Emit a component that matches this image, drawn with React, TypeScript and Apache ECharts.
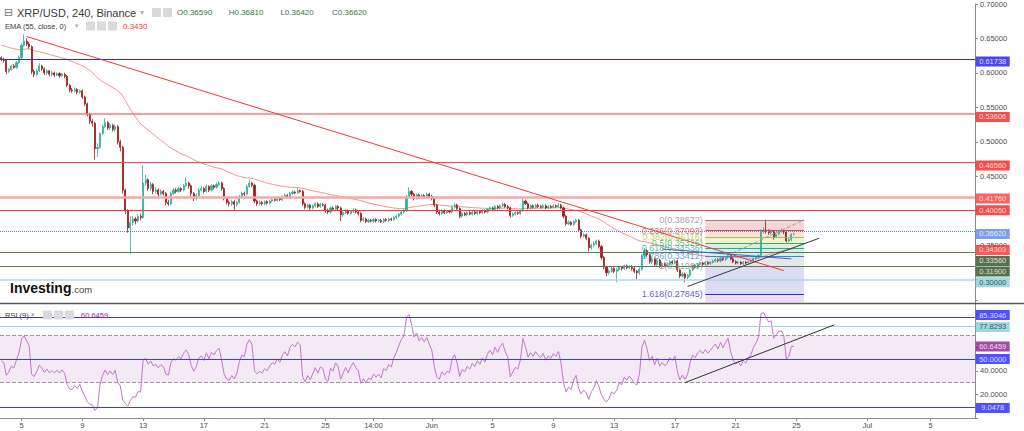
import React, { useEffect, useRef } from 'react';
import * as echarts from 'echarts';

const FONT = "'Liberation Sans', Arial, sans-serif";

// 4-hour candles (XRP/USD), prices in thousandths of USD
const CLOSE = [
  620, 618, 602, 605, 610, 608, 615, 622, 640, 646,
  642, 638, 602, 598, 603, 610, 606, 600, 603, 598,
  600, 597, 599, 596, 598, 595, 582, 575, 574, 576,
  572, 574, 565, 555, 540, 530, 527, 490, 492, 512,
  522, 528, 520, 524, 518, 522, 500, 492, 430, 400,
  375, 383, 388, 385, 392, 390, 440, 445, 432, 438,
  428, 430, 424, 428, 425, 412, 410, 425, 430, 428,
  432, 430, 436, 440, 436, 425, 418, 422, 430, 432,
  428, 435, 430, 436, 434, 438, 440, 432, 418, 412,
  410, 413, 409, 412, 420, 425, 424, 435, 440, 437,
  414, 410, 412, 410, 413, 411, 414, 416, 415, 418,
  416, 420, 422, 420, 425, 427, 426, 429, 428, 410,
  405, 408, 404, 407, 410, 406, 409, 408, 400, 398,
  404, 402, 406, 404, 394, 397, 400, 396, 399, 401,
  398, 396, 386, 388, 384, 386, 385, 387, 385, 386,
  384, 387, 386, 388, 387, 390, 392, 395, 398, 400,
  420, 428, 424, 418, 423, 419, 422, 420, 424, 421,
  418, 408, 398, 396, 400, 397, 399, 398, 405, 408,
  403, 392, 396, 394, 397, 395, 398, 396, 399, 397,
  400, 398, 402, 404, 402, 406, 404, 407, 409, 406,
  404, 393, 395, 397, 396, 400, 414, 410, 404, 407,
  405, 408, 406, 405, 407, 404, 406, 405, 407, 406,
  408, 404, 392, 381, 383, 380, 384, 386, 372, 363,
  365, 360, 346, 350, 352, 356, 348, 332, 318, 310,
  312, 316, 312, 314, 318, 316, 320, 317, 319, 316,
  312, 310, 315, 334, 342, 336, 326, 330, 322, 328,
  320, 323, 320, 322, 326, 324, 327, 314, 305, 308,
  303, 306, 314, 320, 318, 322, 324, 322, 325, 323,
  325, 327, 329, 327, 331, 329, 332, 335, 330, 326,
  324, 325, 323, 325, 324, 326, 327, 330, 332, 335,
  370, 372, 370, 368, 370, 362, 366, 370, 371, 369,
  356, 358, 365.9, 366.2,
];
const HIGH = [
  624, 622, 619, 607, 612, 613, 617, 625, 643, 656,
  650, 645, 640, 605, 606, 614, 612, 608, 605, 604,
  603, 602, 601, 601, 600, 600, 597, 584, 578, 579,
  578, 576, 576, 567, 557, 542, 533, 529, 498, 514,
  525, 534, 530, 527, 526, 525, 524, 503, 494, 432,
  402, 392, 392, 391, 395, 396, 466, 452, 447, 442,
  440, 434, 432, 431, 430, 427, 416, 428, 433, 433,
  435, 434, 439, 448, 442, 438, 427, 425, 433, 436,
  434, 438, 437, 439, 438, 441, 443, 442, 434, 420,
  415, 416, 415, 414, 423, 428, 428, 438, 445, 442,
  439, 416, 415, 414, 415, 415, 416, 418, 418, 420,
  420, 422, 425, 424, 427, 430, 429, 433, 431, 430,
  412, 410, 410, 409, 412, 412, 411, 411, 410, 403,
  406, 406, 408, 408, 406, 399, 403, 402, 401, 404,
  403, 400, 398, 391, 390, 388, 388, 389, 389, 388,
  388, 389, 389, 390, 390, 392, 394, 397, 400, 403,
  423, 434, 430, 426, 425, 425, 424, 424, 426, 426,
  423, 420, 410, 400, 402, 402, 401, 401, 407, 411,
  410, 405, 398, 398, 399, 399, 400, 400, 401, 401,
  402, 402, 404, 406, 406, 408, 408, 409, 412, 411,
  408, 406, 397, 399, 399, 402, 418, 416, 412, 409,
  409, 410, 410, 408, 409, 409, 408, 408, 409, 409,
  411, 410, 406, 394, 386, 385, 386, 388, 388, 374,
  368, 367, 362, 352, 355, 358, 358, 350, 334, 320,
  315, 318, 318, 317, 320, 320, 322, 322, 321, 321,
  318, 314, 318, 337, 346, 344, 338, 333, 332, 331,
  330, 326, 325, 325, 328, 328, 330, 329, 316, 311,
  310, 308, 316, 322, 322, 324, 326, 326, 327, 327,
  327, 329, 331, 331, 333, 333, 334, 338, 336, 332,
  328, 327, 327, 327, 327, 328, 329, 332, 334, 337,
  373, 376, 387, 373, 373, 372, 368, 372, 374, 373,
  371, 361, 367, 368.1,
];
const LOW = [
  617, 615, 598, 600, 603, 606, 606, 613, 620, 638,
  639, 635, 598, 594, 595, 601, 603, 597, 597, 595,
  595, 594, 595, 593, 594, 592, 579, 572, 571, 572,
  569, 570, 562, 552, 537, 526, 522, 474, 478, 490,
  510, 520, 517, 517, 515, 515, 496, 486, 425, 395,
  368, 337, 378, 380, 383, 386, 388, 436, 429, 429,
  424, 425, 420, 422, 422, 408, 407, 408, 423, 425,
  426, 427, 428, 434, 432, 421, 414, 415, 420, 428,
  425, 426, 427, 428, 431, 432, 436, 429, 415, 409,
  406, 407, 400, 406, 410, 418, 421, 422, 433, 434,
  411, 407, 408, 407, 408, 409, 409, 412, 413, 413,
  414, 414, 418, 418, 418, 423, 424, 424, 426, 407,
  402, 403, 401, 402, 405, 404, 404, 406, 397, 395,
  396, 399, 400, 401, 385, 391, 395, 394, 394, 397,
  396, 393, 383, 384, 382, 382, 383, 383, 383, 383,
  382, 382, 384, 384, 385, 385, 388, 390, 393, 396,
  398, 418, 421, 415, 416, 417, 417, 418, 418, 419,
  415, 405, 395, 393, 394, 395, 395, 396, 396, 403,
  401, 389, 390, 392, 392, 393, 393, 394, 394, 395,
  395, 396, 396, 400, 400, 400, 402, 402, 405, 404,
  402, 390, 391, 393, 394, 394, 398, 408, 402, 402,
  403, 403, 404, 403, 403, 402, 402, 403, 403, 404,
  404, 402, 389, 378, 379, 378, 378, 382, 369, 360,
  361, 357, 341, 343, 347, 350, 345, 329, 315, 305,
  307, 310, 309, 296, 312, 313, 314, 315, 315, 313,
  309, 300, 307, 313, 331, 333, 323, 323, 319, 320,
  317, 318, 318, 318, 320, 322, 322, 311, 302, 303,
  296, 300, 304, 312, 316, 316, 320, 320, 320, 321,
  321, 323, 325, 325, 325, 327, 327, 330, 328, 324,
  322, 322, 321, 321, 322, 322, 324, 325, 328, 330,
  333, 367, 367, 365, 365, 358, 360, 364, 368, 366,
  354, 354, 356, 364.2,
];
const FIRST_OPEN = 622;

// time slots (4h each) on the x axis, including the empty future area
const SLOT_COUNT = 385;
const X_TICKS: [number, string][] = [
  [8, '5'], [32, '9'], [56, '13'], [80, '17'], [104, '21'], [128, '25'], [147, '14:00'],
  [170, 'Jun'], [194, '5'], [218, '9'], [242, '13'], [266, '17'], [290, '21'], [314, '25'],
  [342, 'Jul'], [367, '5'],
];

const EMA_PERIOD = 55;
const EMA_SEED = 0.641;
const RSI_PERIOD = 9;
const RSI_SEED = 0.004;

// horizontal levels in the price pane
const LEVEL_VALUES = [0.61738, 0.53606, 0.4656, 0.4176, 0.4005, 0.3662, 0.3356, 0.319, 0.3];
const LEVEL_STYLES = [
  { color: '#2e2ed6', width: 1, type: 'solid' },
  { color: '#ff7a7a', width: 1.5, type: 'solid' },
  { color: '#ef4a4a', width: 1, type: 'solid' },
  { color: '#f6a8a8', width: 2.5, type: 'solid' },
  { color: '#ee3a3a', width: 1, type: 'solid' },
  { color: '#5b7fe3', width: 1, type: 'dotted' },
  { color: '#5f7d4e', width: 1, type: 'solid' },
  { color: '#5f7d4e', width: 1, type: 'solid' },
  { color: '#a9dde9', width: 1.5, type: 'solid' },
];

// price tags on the right axis
const TAG_VALUES = [0.61738, 0.53606, 0.4656, 0.4176, 0.4005, 0.3662, 0.34303, 0.3356, 0.319, 0.3];
const TAG_STYLES = [
  { bg: '#1c1ce6', fg: '#ffffff', dy: 0.5 },
  { bg: '#f41f1f', fg: '#ffffff', dy: 0 },
  { bg: '#f41f1f', fg: '#ffffff', dy: 0 },
  { bg: '#f43a3a', fg: '#ffffff', dy: 0 },
  { bg: '#f41f1f', fg: '#ffffff', dy: 0 },
  { bg: '#5c86e6', fg: '#ffffff', dy: 0 },
  { bg: '#ff2b2b', fg: '#ffffff', dy: 0 },
  { bg: '#2c4d1f', fg: '#ffffff', dy: 5.9 },
  { bg: '#2c4d1f', fg: '#ffffff', dy: 5 },
  { bg: '#86cfe0', fg: '#2a2a2a', dy: 2.7 },
];
// axis tick values hidden under the tags
const MAIN_TICKS_UNDER_TAGS = [0.25, 0.3, 0.4];
const RSI_TICKS_UNDER_TAGS = [0, 60, 80, 100];

// drawn trend lines: [slot1, price1, slot2, price2]
const TREND_RED = [10, 0.6529, 309, 0.3129];
const TREND_SUPPORT = [271, 0.29, 323, 0.36];
const TREND_BLUE = [261, 0.3443, 312, 0.33];
const FIB_DIAGONAL = [278, 0.3198, 317, 0.38672];

// Fibonacci retracement
const FIB_RATIOS = ['0', '0.236', '0.382', '0.5', '0.618', '0.786', '1', '1.618'];
const FIB_VALUES = [0.38672, 0.37093, 0.36116, 0.35326, 0.34536, 0.33412, 0.3198, 0.27845];
const FIB_COLORS = ['#8a8a8a', '#e04848', '#a3c23a', '#46aa4e', '#22ad9a', '#3f86d2', '#8a8a8a', '#3434c6'];
const FIB_FILLS = ['#f8d4d4', '#f9e2da', '#eef3d4', '#d9f0da', '#d2efeb', '#e7e7ea', '#dcdcf4'];
const FIB_START = 278;
const FIB_END = 317;
const FIB_FLOOR = 0.2671;
const FIB_FLOOR_FILL = '#eddcef';

// RSI pane
const RSI_LEVELS = [85.3046, 77.8293, 70, 50, 30, 9.0478];
const RSI_LEVEL_STYLES = [
  { color: '#3a3aff', width: 1.2, type: 'solid' },
  { color: '#9fd8e2', width: 1.2, type: 'solid' },
  { color: '#9a9a9a', width: 1, type: 'dashed' },
  { color: '#3a3aff', width: 1.2, type: 'solid' },
  { color: '#9a9a9a', width: 1, type: 'dashed' },
  { color: '#3a3aff', width: 1.2, type: 'solid' },
];
const RSI_TREND = [270, 30, 329, 79];
const RSI_TAG_VALUES = [85.3046, 77.8293, 60.6459, 50, 9.0478];
const RSI_TAG_STYLES = [
  { bg: '#2424ff', fg: '#ffffff', dy: -2.3 },
  { bg: '#86cfdc', fg: '#2a2a2a', dy: 0.8 },
  { bg: '#8e1f8e', fg: '#ffffff', dy: 0 },
  { bg: '#2424ff', fg: '#ffffff', dy: 0 },
  { bg: '#2424ff', fg: '#ffffff', dy: 0.6 },
];

// header texts
const TITLE = 'XRP/USD, 240, Binance';
const HEADER_OHLC: [string, string][] = [['O', '0.36590'], ['H', '0.36810'], ['L', '0.36420'], ['C', '0.36620']];
const EMA_TITLE = 'EMA (55, close, 0)';
const EMA_VALUE = '0.3430';
const RSI_TITLE = 'RSI (9)';
const RSI_VALUE = '60.6459';

function buildOption() {
  const categories = Array.from({ length: SLOT_COUNT }, (_, i) => 'b' + i);
  const tickMap = new Map<number, string>(X_TICKS);
  const lastSlot = SLOT_COUNT - 1;
  const near = (list: number[], v: number) => list.some((t) => Math.abs(t - v) < 1e-6);

  const ohlc = CLOSE.map((c, i) => {
    const o = i === 0 ? FIRST_OPEN : CLOSE[i - 1];
    return [o / 1000, c / 1000, LOW[i] / 1000, HIGH[i] / 1000];
  });

  const k = 2 / (EMA_PERIOD + 1);
  let e = EMA_SEED;
  const ema = CLOSE.map((c) => {
    e = e + k * (c / 1000 - e);
    return +e.toFixed(5);
  });

  let ag = RSI_SEED;
  let al = RSI_SEED;
  const rsi = CLOSE.map((c, i) => {
    const prev = i === 0 ? FIRST_OPEN : CLOSE[i - 1];
    const d = (c - prev) / 1000;
    ag = (ag * (RSI_PERIOD - 1) + Math.max(d, 0)) / RSI_PERIOD;
    al = (al * (RSI_PERIOD - 1) + Math.max(-d, 0)) / RSI_PERIOD;
    return +(100 - 100 / (1 + ag / al)).toFixed(3);
  });

  const pair = (t: number[], style: any) => [
    { coord: [t[0], t[1]], lineStyle: style },
    { coord: [t[2], t[3]] },
  ];

  const levelLines = LEVEL_VALUES.map((v, i) => ({ yAxis: v, lineStyle: LEVEL_STYLES[i] }));

  const fibLines = FIB_VALUES.map((v, i) => [
    { coord: [FIB_START, v], lineStyle: { color: FIB_COLORS[i], width: 1, type: 'solid' } },
    { coord: [FIB_END, v] },
  ]);
  const fibBands: any[] = FIB_FILLS.map((fill, i) => [
    { coord: [FIB_START, FIB_VALUES[i]], itemStyle: { color: fill } },
    { coord: [FIB_END, FIB_VALUES[i + 1]] },
  ]);
  fibBands.push([
    { coord: [FIB_START, FIB_VALUES[FIB_VALUES.length - 1]], itemStyle: { color: FIB_FLOOR_FILL } },
    { coord: [FIB_END, FIB_FLOOR] },
  ]);

  const tagSeries = (gridIdx: number, values: number[], styles: any[], digits: number) => ({
    type: 'scatter',
    xAxisIndex: gridIdx,
    yAxisIndex: gridIdx,
    clip: false,
    silent: true,
    z: 20,
    symbol: 'rect',
    symbolSize: [34, 10],
    data: values.map((v, i) => ({
      value: [lastSlot, v],
      symbolOffset: [19, styles[i].dy],
      itemStyle: { color: styles[i].bg },
      label: { color: styles[i].fg },
    })),
    label: {
      show: true,
      position: 'inside',
      fontSize: 7.5,
      fontFamily: FONT,
      formatter: (p: any) => Number(p.value[1]).toFixed(digits),
    },
  });

  const axisLabelBase = { color: '#4d4d4d', fontSize: 7.5, fontFamily: FONT };

  const txt = (x: number, y: number, text: string, size: number, fill: string, extra: any = {}) => ({
    type: 'text',
    x,
    y,
    z: 100,
    silent: true,
    style: {
      text,
      fill,
      font: `${extra.weight || 'normal'} ${size}px ${extra.family || FONT}`,
      textVerticalAlign: 'middle',
      verticalAlign: 'middle',
    },
  });
  const icon = (x: number, y: number) => ({
    type: 'rect',
    z: 100,
    silent: true,
    shape: { x, y: y - 4.5, width: 9, height: 9, r: 1 },
    style: { fill: '#dadada' },
  });

  const graphic: any[] = [
    {
      type: 'line',
      z: 100,
      silent: true,
      shape: { x1: 0, y1: 303.5, x2: 1024, y2: 303.5 },
      style: { stroke: '#5a5a5a', lineWidth: 1.5 },
    },
    txt(4, 12.5, '⊟', 11, '#777', { family: "'DejaVu Sans', sans-serif" }),
    txt(17, 12.5, TITLE, 11, '#3a3a3a'),
    txt(140, 12.5, '▾', 8, '#aaaaaa', { family: "'DejaVu Sans', sans-serif" }),
    icon(152, 12.5),
    icon(163, 12.5),
    ...HEADER_OHLC.map(([l, v], i) => ({
      type: 'text',
      x: 177 + i * 51.7,
      y: 12.5,
      z: 100,
      silent: true,
      style: {
        text: `{l|${l}}{v|${v}}`,
        textVerticalAlign: 'middle',
        verticalAlign: 'middle',
        rich: {
          l: { fill: '#555555', fontSize: 8, fontFamily: FONT },
          v: { fill: '#2f7a36', fontSize: 8, fontFamily: FONT },
        },
      },
    })),
    txt(5, 26, EMA_TITLE, 7.5, '#3a3a3a'),
    txt(75, 26, '▾', 7, '#aaaaaa', { family: "'DejaVu Sans', sans-serif" }),
    icon(86, 26),
    icon(97, 26),
    icon(108, 26),
    txt(123, 26, EMA_VALUE, 8, '#ff3030'),
    txt(10, 288, 'Investing', 14, '#111111', { weight: 'bold' }),
    txt(71.5, 289.5, '.com', 9.5, '#444444'),
    txt(5, 315, RSI_TITLE, 7.5, '#3a3a3a'),
    txt(31, 315, '▾', 7, '#aaaaaa', { family: "'DejaVu Sans', sans-serif" }),
    icon(43, 315),
    icon(54, 315),
    icon(65, 315),
    txt(81, 315, RSI_VALUE, 7.5, '#a21fa2'),
  ];

  return {
    animation: false,
    backgroundColor: '#ffffff',
    textStyle: { fontFamily: FONT },
    grid: [
      { left: 0, right: 49, top: -1, height: 315 },
      { left: 0, right: 49, top: 300, height: 118 },
    ],
    xAxis: [
      {
        type: 'category',
        gridIndex: 0,
        data: categories,
        boundaryGap: true,
        axisLine: { show: false },
        axisTick: { show: false },
        axisLabel: { show: false },
        splitLine: { show: false },
      },
      {
        type: 'category',
        gridIndex: 1,
        data: categories,
        boundaryGap: true,
        axisLine: { show: true, lineStyle: { color: '#8c8c8c' } },
        axisTick: {
          show: true,
          alignWithLabel: true,
          length: 3,
          interval: (i: number) => tickMap.has(i),
          lineStyle: { color: '#8c8c8c' },
        },
        axisLabel: {
          ...axisLabelBase,
          show: true,
          margin: 3,
          interval: (i: number) => tickMap.has(i),
          formatter: (_v: string, i: number) => tickMap.get(i) || '',
        },
        splitLine: { show: false },
      },
    ],
    yAxis: [
      {
        type: 'value',
        gridIndex: 0,
        position: 'right',
        min: 0.25,
        max: 0.7,
        interval: 0.05,
        axisLine: { show: true, lineStyle: { color: '#8c8c8c' } },
        axisTick: { show: true, length: 3, lineStyle: { color: '#8c8c8c' } },
        axisLabel: {
          ...axisLabelBase,
          margin: 5,
          formatter: (v: number) => (near(MAIN_TICKS_UNDER_TAGS, v) ? '' : v.toFixed(5)),
        },
        splitLine: { show: false },
      },
      {
        type: 'value',
        gridIndex: 1,
        position: 'right',
        min: 0,
        max: 100,
        interval: 20,
        axisLine: { show: true, lineStyle: { color: '#8c8c8c' } },
        axisTick: { show: true, length: 3, lineStyle: { color: '#8c8c8c' } },
        axisLabel: {
          ...axisLabelBase,
          margin: 5,
          formatter: (v: number) => (near(RSI_TICKS_UNDER_TAGS, v) ? '' : v.toFixed(4)),
        },
        splitLine: { show: false },
      },
    ],
    series: [
      {
        name: 'EMA',
        type: 'line',
        xAxisIndex: 0,
        yAxisIndex: 0,
        data: ema,
        showSymbol: false,
        silent: true,
        z: 1,
        lineStyle: { color: '#f39090', width: 1 },
        markArea: { silent: true, data: fibBands },
        markLine: {
          silent: true,
          symbol: ['none', 'none'],
          label: { show: false },
          data: [...fibLines, pair(FIB_DIAGONAL, { color: '#a0a0a0', width: 1, type: 'dashed' })],
        },
      },
      {
        name: 'XRP/USD',
        type: 'candlestick',
        xAxisIndex: 0,
        yAxisIndex: 0,
        data: ohlc,
        barWidth: 1.6,
        z: 3,
        silent: true,
        itemStyle: {
          color: '#2fb09b',
          color0: '#9c1a1a',
          borderColor: '#2fb09b',
          borderColor0: '#9c1a1a',
          borderWidth: 0.8,
        },
        markLine: {
          silent: true,
          symbol: ['none', 'none'],
          label: { show: false },
          data: [
            ...levelLines,
            pair(TREND_RED, { color: '#f03a3a', width: 1, type: 'solid' }),
            pair(TREND_BLUE, { color: '#3f5fdc', width: 1, type: 'solid' }),
            pair(TREND_SUPPORT, { color: '#3a3a3a', width: 1, type: 'solid' }),
          ],
        },
      },
      {
        name: 'Fib labels',
        type: 'scatter',
        xAxisIndex: 0,
        yAxisIndex: 0,
        silent: true,
        z: 6,
        symbolSize: 1,
        itemStyle: { color: 'rgba(0,0,0,0)' },
        data: FIB_VALUES.map((v, i) => ({
          value: [FIB_START, v],
          name: `${FIB_RATIOS[i]}(${v.toFixed(5)})`,
          label: { color: FIB_COLORS[i] },
        })),
        label: {
          show: true,
          position: 'left',
          distance: 2,
          fontSize: 9,
          fontFamily: FONT,
          formatter: (p: any) => p.name,
        },
      },
      tagSeries(0, TAG_VALUES, TAG_STYLES, 5),
      {
        name: 'RSI',
        type: 'line',
        xAxisIndex: 1,
        yAxisIndex: 1,
        data: rsi,
        showSymbol: false,
        silent: true,
        z: 3,
        lineStyle: { color: '#c276cc', width: 1 },
        markArea: {
          silent: true,
          itemStyle: { color: 'rgba(150, 60, 160, 0.11)' },
          data: [[{ yAxis: 70 }, { yAxis: 30 }]],
        },
        markLine: {
          silent: true,
          symbol: ['none', 'none'],
          label: { show: false },
          data: [
            ...RSI_LEVELS.map((v, i) => ({ yAxis: v, lineStyle: RSI_LEVEL_STYLES[i] })),
            pair(RSI_TREND, { color: '#333333', width: 1, type: 'solid' }),
          ],
        },
      },
      tagSeries(1, RSI_TAG_VALUES, RSI_TAG_STYLES, 4),
    ],
    graphic,
  };
}

export default function App() {
  const ref = useRef<HTMLDivElement>(null);
  useEffect(() => {
    if (!ref.current) return;
    const chart = echarts.init(ref.current, null, { renderer: 'svg' });
    chart.setOption(buildOption() as any);
    return () => chart.dispose();
  }, []);
  return (
    <div
      ref={ref}
      style={{ position: 'fixed', left: 0, top: 0, width: 1024, height: 431, background: '#fff' }}
    />
  );
}
